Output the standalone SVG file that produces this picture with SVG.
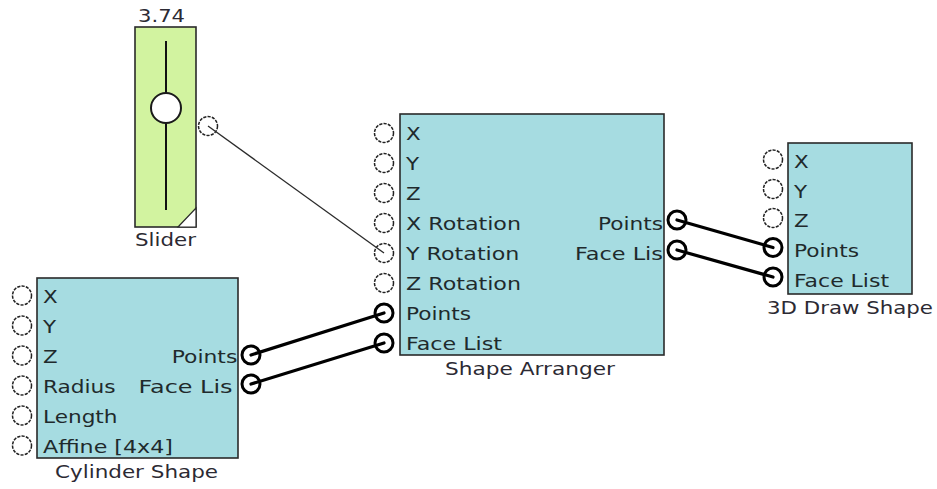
<svg xmlns="http://www.w3.org/2000/svg" width="937" height="489" viewBox="0 0 937 489">
<style>
.bg{fill:#ffffff}
.box{fill:#a6dce1;stroke:#2a2a2a;stroke-width:1.6}
.slider{fill:#d2f3a0;stroke:#2a2a2a;stroke-width:1.6}
.port{fill:#ffffff;stroke:#222222;stroke-width:1.5;stroke-dasharray:3.2 1.2}
.cport{fill:#ffffff;stroke:#000000;stroke-width:3}
.lbl{font-family:"DejaVu Sans","Verdana",sans-serif;font-size:18px;fill:#1f2a2c}
.cap{font-family:"DejaVu Sans","Verdana",sans-serif;font-size:17px;fill:#2c2a33}
.wire{stroke:#000000;stroke-width:3.2;fill:none;stroke-linecap:round}
.thin{stroke:#2a2a2a;stroke-width:1.3;fill:none}
</style>
<rect class="bg" x="0" y="0" width="937" height="489"/>

<g id="slider">
  <text class="cap" x="161.5" y="21.5" text-anchor="middle" textLength="47" lengthAdjust="spacingAndGlyphs">3.74</text>
  <rect class="slider" x="135" y="27" width="61" height="200"/>
  <line x1="166" y1="41" x2="166" y2="210" stroke="#111" stroke-width="2"/>
  <circle cx="166" cy="108" r="15" fill="#fff" stroke="#1a1a1a" stroke-width="2"/>
  <polygon points="178,227 196,227 196,208" fill="#fff" stroke="#2a2a2a" stroke-width="1.2"/>
  <circle class="port" cx="208" cy="126" r="9.5"/>
  <text class="cap" x="165.5" y="246" text-anchor="middle" textLength="61" lengthAdjust="spacingAndGlyphs">Slider</text>
</g>

<g id="cylinder-shape">
  <rect class="box" x="37" y="278" width="201" height="180"/>
  <circle class="port" cx="22" cy="295.5" r="9.5"/>
  <circle class="port" cx="22" cy="325.5" r="9.5"/>
  <circle class="port" cx="22" cy="355.5" r="9.5"/>
  <circle class="port" cx="22" cy="385.5" r="9.5"/>
  <circle class="port" cx="22" cy="415.5" r="9.5"/>
  <circle class="port" cx="22" cy="445.5" r="9.5"/>
  <text class="lbl" x="43" y="302.5" textLength="14.7" lengthAdjust="spacingAndGlyphs">X</text>
  <text class="lbl" x="43" y="332.5" textLength="13.1" lengthAdjust="spacingAndGlyphs">Y</text>
  <text class="lbl" x="43" y="362.5" textLength="14.7" lengthAdjust="spacingAndGlyphs">Z</text>
  <text class="lbl" x="43" y="392.5" textLength="72.6" lengthAdjust="spacingAndGlyphs">Radius</text>
  <text class="lbl" x="43" y="422.5" textLength="74.5" lengthAdjust="spacingAndGlyphs">Length</text>
  <text class="lbl" x="43" y="452.5" textLength="130" lengthAdjust="spacingAndGlyphs">Affine [4x4]</text>
  <text class="lbl" x="171.7" y="362.5" textLength="65.6" lengthAdjust="spacingAndGlyphs">Points</text>
  <text class="lbl" x="138.5" y="392.5" textLength="94" lengthAdjust="spacingAndGlyphs">Face Lis</text>
  <circle class="cport" cx="251" cy="355" r="9"/>
  <circle class="cport" cx="251" cy="384" r="9"/>
  <text class="cap" x="136.5" y="478" text-anchor="middle" textLength="163" lengthAdjust="spacingAndGlyphs">Cylinder Shape</text>
</g>

<g id="shape-arranger">
  <rect class="box" x="400" y="114" width="264" height="241"/>
  <circle class="port" cx="384" cy="133" r="9.5"/>
  <circle class="port" cx="384" cy="163" r="9.5"/>
  <circle class="port" cx="384" cy="193" r="9.5"/>
  <circle class="port" cx="384" cy="223" r="9.5"/>
  <circle class="port" cx="384" cy="253" r="9.5"/>
  <circle class="port" cx="384" cy="283" r="9.5"/>
  <circle class="cport" cx="384" cy="313" r="9"/>
  <circle class="cport" cx="384" cy="343" r="9"/>
  <text class="lbl" x="406" y="139.5" textLength="14.7" lengthAdjust="spacingAndGlyphs">X</text>
  <text class="lbl" x="406" y="169.5" textLength="13.1" lengthAdjust="spacingAndGlyphs">Y</text>
  <text class="lbl" x="406" y="199.5" textLength="14.7" lengthAdjust="spacingAndGlyphs">Z</text>
  <text class="lbl" x="406" y="229.5" textLength="115" lengthAdjust="spacingAndGlyphs">X Rotation</text>
  <text class="lbl" x="406" y="259.5" textLength="113.4" lengthAdjust="spacingAndGlyphs">Y Rotation</text>
  <text class="lbl" x="406" y="289.5" textLength="115" lengthAdjust="spacingAndGlyphs">Z Rotation</text>
  <text class="lbl" x="406" y="319.5" textLength="65" lengthAdjust="spacingAndGlyphs">Points</text>
  <text class="lbl" x="406" y="349.5" textLength="96" lengthAdjust="spacingAndGlyphs">Face List</text>
  <text class="lbl" x="598" y="229.5" textLength="65" lengthAdjust="spacingAndGlyphs">Points</text>
  <text class="lbl" x="575" y="259.5" textLength="88" lengthAdjust="spacingAndGlyphs">Face Lis</text>
  <circle class="cport" cx="677" cy="220" r="9"/>
  <circle class="cport" cx="677" cy="250" r="9"/>
  <text class="cap" x="530" y="375" text-anchor="middle" textLength="170" lengthAdjust="spacingAndGlyphs">Shape Arranger</text>
</g>

<g id="draw-3d-shape">
  <rect class="box" x="788" y="143" width="124" height="151"/>
  <circle class="port" cx="773" cy="159.5" r="9.5"/>
  <circle class="port" cx="773" cy="189" r="9.5"/>
  <circle class="port" cx="773" cy="218" r="9.5"/>
  <circle class="cport" cx="773" cy="247.5" r="9"/>
  <circle class="cport" cx="773" cy="277" r="9"/>
  <text class="lbl" x="794" y="168" textLength="14.7" lengthAdjust="spacingAndGlyphs">X</text>
  <text class="lbl" x="794" y="197.5" textLength="13.1" lengthAdjust="spacingAndGlyphs">Y</text>
  <text class="lbl" x="794" y="227" textLength="14.7" lengthAdjust="spacingAndGlyphs">Z</text>
  <text class="lbl" x="794" y="257" textLength="65" lengthAdjust="spacingAndGlyphs">Points</text>
  <text class="lbl" x="794" y="286.5" textLength="95" lengthAdjust="spacingAndGlyphs">Face List</text>
  <text class="cap" x="850" y="313.5" text-anchor="middle" textLength="166" lengthAdjust="spacingAndGlyphs">3D Draw Shape</text>
</g>

<g id="connectors">
  <line class="thin" x1="208" y1="126" x2="384" y2="253"/>
  <line class="wire" x1="251" y1="355" x2="384" y2="313"/>
  <line class="wire" x1="251" y1="384" x2="384" y2="343"/>
  <line class="wire" x1="677" y1="220" x2="773" y2="247.5"/>
  <line class="wire" x1="677" y1="250" x2="773" y2="277"/>
</g>
</svg>
